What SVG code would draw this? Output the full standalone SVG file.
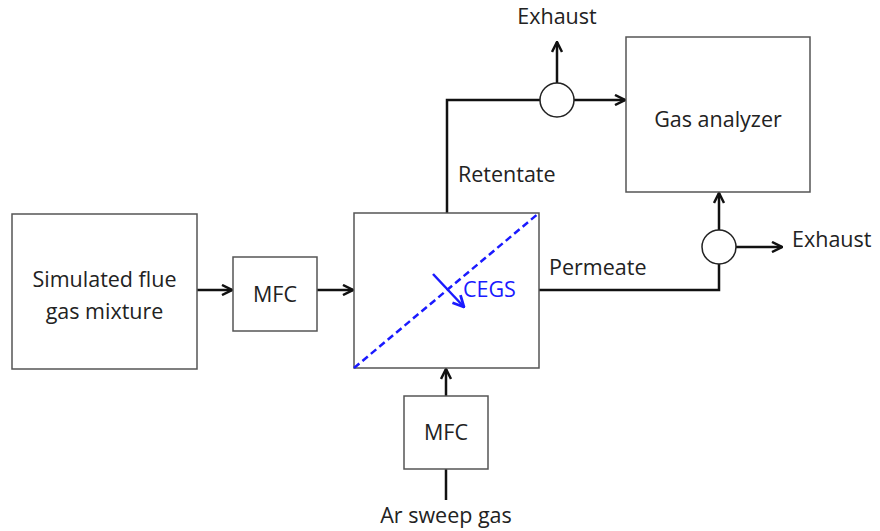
<svg xmlns="http://www.w3.org/2000/svg" width="880" height="531" viewBox="0 0 880 531">
<defs>
<style>
.box{fill:#fff;stroke:#555;stroke-width:1.5}
.ln{fill:none;stroke:#111;stroke-width:2.5}
.t{font-family:"Open Sans","Liberation Sans",sans-serif;font-size:21.5px;fill:#222}
.c{fill:#fff;stroke:#222;stroke-width:1.5}
</style>
<marker id="ah" viewBox="0 0 10 10" refX="9" refY="5" markerWidth="5" markerHeight="5" orient="auto"><path d="M1,1 L9,5 L1,9" fill="none" stroke="#111" stroke-width="2"/></marker>
<marker id="ahb" viewBox="0 0 10 10" refX="9" refY="5" markerWidth="5.5" markerHeight="5.5" orient="auto"><path d="M1,1 L9,5 L1,9" fill="none" stroke="#1a1aff" stroke-width="2"/></marker>
</defs>
<g id="connectors">
<line class="ln" x1="197" y1="290" x2="232" y2="290" marker-end="url(#ah)"/>
<line class="ln" x1="317" y1="290" x2="353" y2="290" marker-end="url(#ah)"/>
<polyline class="ln" points="447,213 447,100 540,100"/>
<line class="ln" x1="557" y1="83" x2="557" y2="42" marker-end="url(#ah)"/>
<line class="ln" x1="574" y1="100" x2="625" y2="100" marker-end="url(#ah)"/>
<polyline class="ln" points="539,290 719,290 719,264"/>
<line class="ln" x1="719" y1="230" x2="719" y2="193" marker-end="url(#ah)"/>
<line class="ln" x1="736" y1="247" x2="782" y2="247" marker-end="url(#ah)"/>
<line class="ln" x1="446" y1="396" x2="446" y2="369" marker-end="url(#ah)"/>
<line class="ln" x1="446" y1="500" x2="446" y2="469"/>
</g>
<g id="sim">
<rect class="box" x="12" y="214" width="185" height="155"/>
<text class="t" x="104.5" y="287" text-anchor="middle">Simulated flue</text>
<text class="t" x="104.5" y="319" text-anchor="middle">gas mixture</text>
</g>
<g id="mfc1">
<rect class="box" x="233" y="257" width="84" height="74"/>
<text class="t" x="275" y="302" text-anchor="middle">MFC</text>
</g>
<g id="cegs">
<rect class="box" x="354" y="213" width="185" height="155"/>
<line x1="354" y1="368" x2="539" y2="213" stroke="#1a1aff" stroke-width="2.5" stroke-dasharray="7,4"/>
<line x1="433" y1="274" x2="464" y2="307" stroke="#1a1aff" stroke-width="2.5" marker-end="url(#ahb)"/>
<text class="t" x="463" y="297" style="fill:#1a1aff">CEGS</text>
</g>
<g id="mfc2">
<rect class="box" x="404" y="396" width="84" height="73"/>
<text class="t" x="446" y="440" text-anchor="middle">MFC</text>
</g>
<g id="analyzer">
<rect class="box" x="626" y="37" width="184" height="155"/>
<text class="t" x="718" y="127" text-anchor="middle">Gas analyzer</text>
</g>
<g id="valve1"><circle class="c" cx="557" cy="100" r="17"/></g>
<g id="valve2"><circle class="c" cx="719" cy="247" r="17"/></g>
<g id="labels">
<text class="t" x="557" y="24" text-anchor="middle">Exhaust</text>
<text class="t" x="792" y="247">Exhaust</text>
<text class="t" x="458" y="182">Retentate</text>
<text class="t" x="549" y="275">Permeate</text>
<text class="t" x="446" y="523" text-anchor="middle">Ar sweep gas</text>
</g>
</svg>
